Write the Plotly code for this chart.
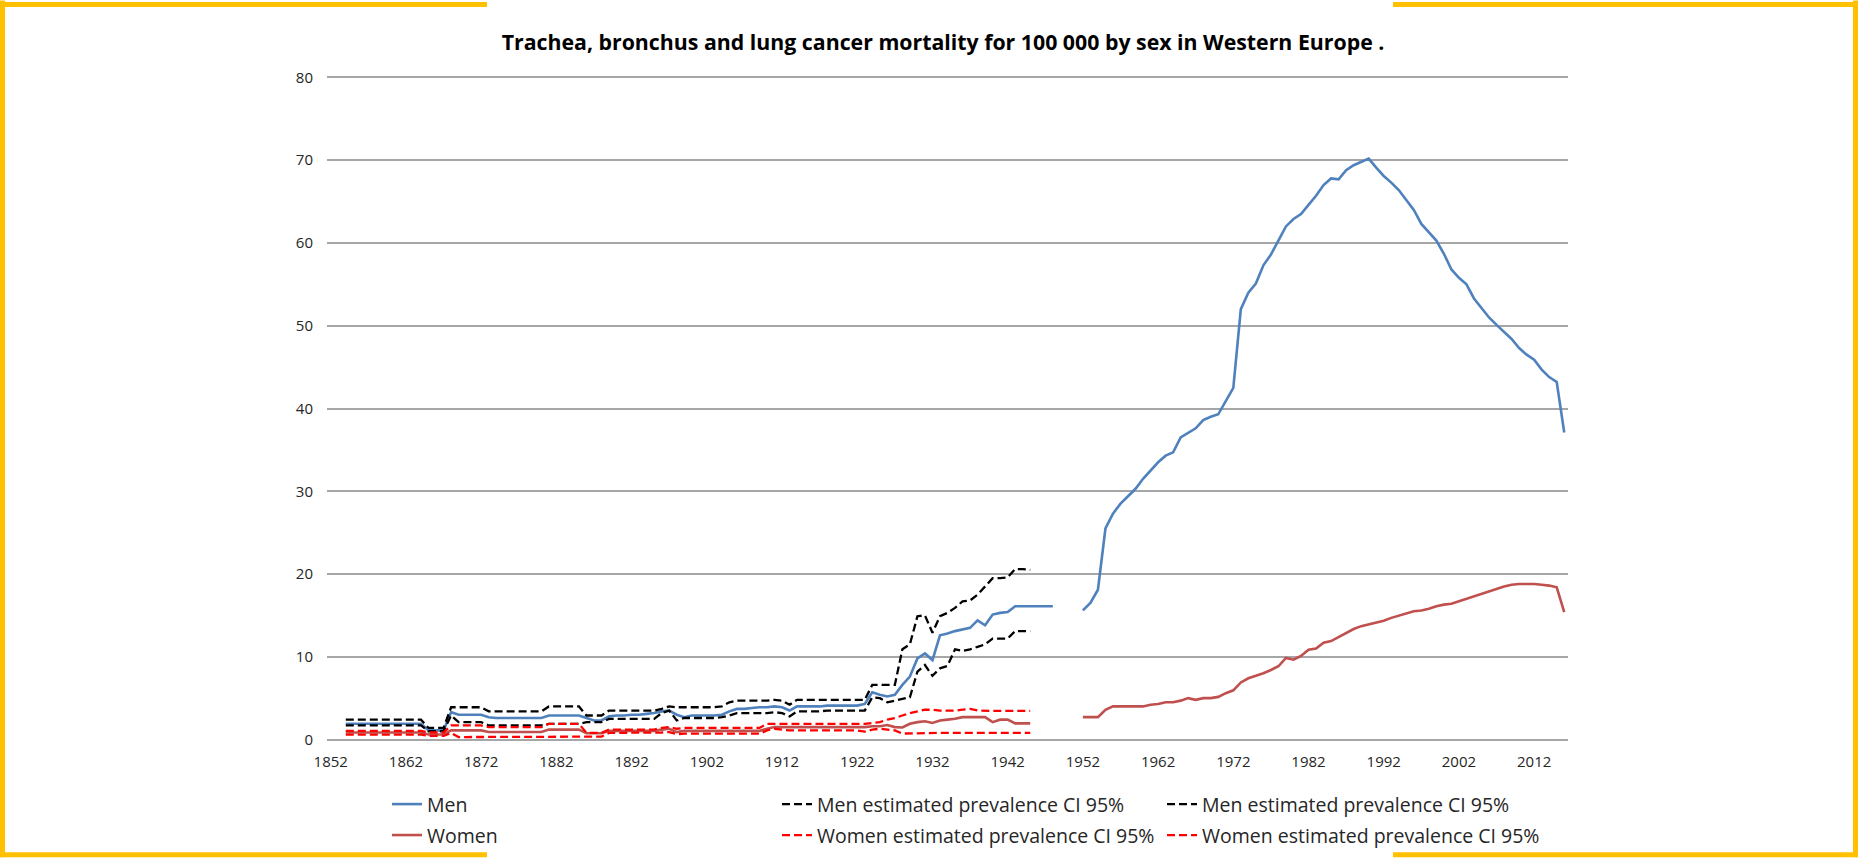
import plotly.graph_objects as go

# ---------------- data ----------------
years_early_men = list(range(1854, 1949))   # 1854..1948
years_early_ci = list(range(1854, 1946))    # 1854..1945
years_late = list(range(1952, 2017))        # 1952..2016

men_early = [1.9, 1.9, 1.9, 1.9, 1.9, 1.9, 1.9, 1.9, 1.9, 1.9, 1.9,
             1.1, 1.1, 1.1,
             3.3, 3.0, 3.0, 3.0, 3.0,
             2.7, 2.6, 2.6, 2.6, 2.6, 2.6, 2.6, 2.6,
             2.9, 2.9, 2.9, 2.9, 2.9,
             2.6, 2.3, 2.3,
             2.8, 2.9, 2.9, 3.0, 3.0, 3.1, 3.2,
             3.4, 3.5, 3.0, 2.7, 2.9, 2.9, 2.9, 2.9, 3.0,
             3.4, 3.7, 3.7, 3.8, 3.9, 3.9, 4.0, 3.9, 3.5,
             4.0, 4.0, 4.0, 4.0, 4.1, 4.1, 4.1, 4.1, 4.1, 4.3,
             5.7, 5.4, 5.2, 5.4, 6.6, 7.6, 9.8, 10.4, 9.6, 12.6,
             12.8, 13.1, 13.3, 13.5, 14.4, 13.8, 15.1, 15.3, 15.4, 16.1,
             16.1, 16.1, 16.1, 16.1, 16.1]

men_hi = [2.4, 2.4, 2.4, 2.4, 2.4, 2.4, 2.4, 2.4, 2.4, 2.4, 2.4,
          1.4, 1.4, 1.4,
          3.9, 3.9, 3.9, 3.9, 3.9,
          3.4, 3.4, 3.4, 3.4, 3.4, 3.4, 3.4, 3.4,
          4.0, 4.0, 4.0, 4.0, 4.0,
          2.9, 2.9, 2.9,
          3.5, 3.5, 3.5, 3.5, 3.5, 3.5, 3.5,
          3.7, 4.0, 3.9, 3.9, 3.9, 3.9, 3.9, 3.9, 4.0,
          4.5, 4.7, 4.7, 4.7, 4.7, 4.7, 4.8, 4.7, 4.2,
          4.8, 4.8, 4.8, 4.8, 4.8, 4.8, 4.8, 4.8, 4.8, 4.8,
          6.6, 6.6, 6.6, 6.6, 10.9, 11.5, 14.9, 15.0, 12.9, 14.9,
          15.3, 15.9, 16.7, 16.8, 17.5, 18.5, 19.5, 19.5, 19.6, 20.6,
          20.6, 20.5]

men_lo = [1.7, 1.7, 1.7, 1.7, 1.7, 1.7, 1.7, 1.7, 1.7, 1.7, 1.7,
          1.0, 1.0, 1.0,
          2.9, 2.1, 2.1, 2.1, 2.1,
          1.7, 1.7, 1.7, 1.7, 1.7, 1.7, 1.7, 1.7,
          1.9, 1.9, 1.9, 1.9, 1.9,
          2.1, 2.1, 2.1,
          2.5, 2.5, 2.5, 2.5, 2.5, 2.5, 2.5,
          3.2, 3.5, 2.3, 2.6, 2.6, 2.6, 2.6, 2.6, 2.7,
          2.9, 3.2, 3.2, 3.2, 3.2, 3.2, 3.3, 3.2, 2.8,
          3.4, 3.4, 3.4, 3.4, 3.5, 3.5, 3.5, 3.5, 3.5, 3.5,
          5.1, 5.0, 4.5, 4.7, 4.9, 5.1, 8.2, 9.0, 7.7, 8.6,
          8.9, 10.9, 10.7, 10.9, 11.2, 11.5, 12.2, 12.2, 12.2, 13.1,
          13.1, 13.1]

women_early = [0.85, 0.85, 0.85, 0.85, 0.85, 0.85, 0.85, 0.85, 0.85, 0.85, 0.85,
               0.6, 0.6, 0.6,
               1.1, 1.1, 1.1, 1.1, 1.1,
               0.9, 0.9, 0.9, 0.9, 0.9, 0.9, 0.9, 0.9,
               1.2, 1.2, 1.2, 1.2, 1.2,
               0.75, 0.75, 0.75,
               1.05, 1.05, 1.05, 1.05, 1.05, 1.05, 1.05,
               1.2, 1.3, 0.9, 1.05, 1.05, 1.05, 1.05, 1.05, 1.05,
               1.05, 1.05, 1.05, 1.05, 1.05, 1.3, 1.5, 1.5, 1.5,
               1.5, 1.5, 1.5, 1.5, 1.5, 1.5, 1.5, 1.5, 1.5, 1.5,
               1.6, 1.6, 1.75, 1.5, 1.45, 1.9, 2.1, 2.2, 2.0, 2.3,
               2.4, 2.5, 2.7, 2.7, 2.7, 2.7, 2.1, 2.4, 2.4, 1.95,
               1.95, 1.95]

women_hi = [1.05, 1.05, 1.05, 1.05, 1.05, 1.05, 1.05, 1.05, 1.05, 1.05, 1.05,
            0.85, 0.85, 0.85,
            1.7, 1.7, 1.7, 1.7, 1.7,
            1.5, 1.5, 1.5, 1.5, 1.5, 1.5, 1.5, 1.5,
            1.9, 1.9, 1.9, 1.9, 1.9,
            0.8, 0.8, 0.8,
            1.2, 1.2, 1.2, 1.2, 1.2, 1.2, 1.2,
            1.4, 1.5, 1.3, 1.4, 1.4, 1.4, 1.4, 1.4, 1.4,
            1.4, 1.4, 1.4, 1.4, 1.4, 1.9, 1.9, 1.9, 1.9,
            1.9, 1.9, 1.9, 1.9, 1.9, 1.9, 1.9, 1.9, 1.9, 1.9,
            2.0, 2.1, 2.4, 2.6, 2.9, 3.2, 3.4, 3.6, 3.6, 3.5,
            3.5, 3.5, 3.6, 3.7, 3.5, 3.45, 3.45, 3.45, 3.45, 3.45,
            3.45, 3.45]

women_lo = [0.6, 0.6, 0.6, 0.6, 0.6, 0.6, 0.6, 0.6, 0.6, 0.6, 0.6,
            0.45, 0.45, 0.45,
            0.8, 0.3, 0.3, 0.3, 0.3,
            0.3, 0.3, 0.3, 0.3, 0.3, 0.3, 0.3, 0.3,
            0.3, 0.3, 0.3, 0.3, 0.3,
            0.35, 0.35, 0.35,
            0.8, 0.8, 0.8, 0.8, 0.8, 0.8, 0.8,
            0.85, 0.9, 0.65, 0.7, 0.7, 0.7, 0.7, 0.7, 0.7,
            0.7, 0.7, 0.7, 0.7, 0.7, 1.1, 1.3, 1.2, 1.1,
            1.1, 1.1, 1.1, 1.1, 1.1, 1.1, 1.1, 1.1, 1.1, 0.95,
            1.2, 1.3, 1.2, 1.1, 0.72, 0.75, 0.8, 0.8, 0.8, 0.8,
            0.8, 0.8, 0.8, 0.8, 0.8, 0.8, 0.8, 0.8, 0.8, 0.8,
            0.8, 0.8]

men_late = [15.6, 16.5, 18.1, 25.5, 27.3, 28.5, 29.4, 30.3, 31.5, 32.5,
            33.5, 34.3, 34.7, 36.5, 37.0, 37.6, 38.6, 39.0, 39.3, 40.9,
            42.5, 52.0, 54.0, 55.1, 57.3, 58.6, 60.3, 62.0, 62.9, 63.5,
            64.6, 65.7, 67.0, 67.8, 67.7, 68.8, 69.4, 69.8, 70.2, 69.1,
            68.1, 67.3, 66.4, 65.2, 64.0, 62.3, 61.3, 60.3, 58.7, 56.8,
            55.8, 55.0, 53.3, 52.1, 51.0, 50.1, 49.2, 48.4, 47.3, 46.5,
            45.9, 44.7, 43.8, 43.2, 37.1]

women_late = [2.7, 2.7, 2.7, 3.6, 4.0, 4.0, 4.0, 4.0, 4.0, 4.2,
              4.3, 4.5, 4.5, 4.7, 5.0, 4.8, 5.0, 5.0, 5.15, 5.6,
              5.95, 6.9, 7.4, 7.7, 8.0, 8.4, 8.85, 9.85, 9.65, 10.1,
              10.85, 11.0, 11.7, 11.9, 12.4, 12.9, 13.35, 13.7, 13.9, 14.15,
              14.35, 14.7, 14.95, 15.2, 15.5, 15.6, 15.8, 16.1, 16.3, 16.4,
              16.7, 17.0, 17.3, 17.6, 17.9, 18.2, 18.5, 18.7, 18.8, 18.8,
              18.8, 18.7, 18.6, 18.4, 15.4]

x_ticks = [1852, 1862, 1872, 1882, 1892, 1902, 1912, 1922, 1932, 1942,
           1952, 1962, 1972, 1982, 1992, 2002, 2012]
y_ticks = [0, 10, 20, 30, 40, 50, 60, 70, 80]

title_text = "Trachea, bronchus and lung cancer mortality for 100 000 by sex in Western Europe ."
name_men = "Men"
name_women = "Women"
name_men_ci = "Men estimated prevalence CI 95%"
name_women_ci = "Women estimated prevalence CI 95%"

# ---------------- figure ----------------
W, H = 1858, 858
L, R = 327, 1568
YMIN, YMAX = -0.3, 80.3
PPU = 8.29                                  # pixels per unit
T = 77 - (YMAX - 80) * PPU
B = 740 + (0 - YMIN) * PPU

def px(x):
    return (x - L) / (R - L)

def py(y):
    return (B - y) / (B - T)

BLUE = "#4F81BD"
DRED = "#C0504D"
DASH = "8px,4px"

men_x = years_early_men + [1950] + years_late
men_y = men_early + [None] + men_late
women_x = years_early_ci + [1950] + years_late
women_y = women_early + [None] + women_late

FONT = "Open Sans"
TXT = "#262626"
YEL = "#FFC000"

traces = [
    (men_x, men_y, name_men, BLUE, 2.6, "solid", "legend", 428, 805),
    (years_early_ci, men_hi, name_men_ci, "#000000", 2.3, DASH, "legend2", 818, 805),
    (years_early_ci, men_lo, name_men_ci, "#000000", 2.3, DASH, "legend3", 1203, 805),
    (women_x, women_y, name_women, DRED, 2.6, "solid", "legend4", 428, 836),
    (years_early_ci, women_hi, name_women_ci, "#FF0000", 2.3, DASH, "legend5", 818, 836),
    (years_early_ci, women_lo, name_women_ci, "#FF0000", 2.3, DASH, "legend6", 1203, 836),
]

fig = go.Figure()
legends = {}
for xs, ys, nm, col, wd, dsh, lg, tx, ty in traces:
    fig.add_trace(go.Scatter(x=xs, y=ys, mode="lines", name=nm,
                             line=dict(color=col, width=wd, dash=dsh), legend=lg))
    legends[lg] = dict(orientation="h", xanchor="left", yanchor="middle",
                       x=px(tx - 41), y=py(ty),
                       font=dict(family=FONT, size=19.5, color=TXT),
                       bgcolor="rgba(0,0,0,0)", borderwidth=0)

shapes = []
# yellow frame with gaps at top and bottom centre
for (x0, y0, x1, y1) in [(0, 4, 487, 4), (1393, 4, W, 4),
                         (0, 855.5, 487, 855.5), (1393, 855.5, W, 855.5),
                         (2.5, 0, 2.5, H), (W - 2.5, 0, W - 2.5, H)]:
    shapes.append(dict(type="line", xref="paper", yref="paper",
                       x0=px(x0), x1=px(x1), y0=py(y0), y1=py(y1),
                       line=dict(color=YEL, width=5), layer="above"))

fig.update_layout(
    width=W, height=H,
    margin=dict(l=L, r=W - R, t=T, b=H - B, autoexpand=False),
    paper_bgcolor="white", plot_bgcolor="white",
    title=dict(text="<b>" + title_text + "</b>", x=943 / W, xanchor="center",
               xref="container", y=1 - 43 / H, yanchor="middle",
               font=dict(family=FONT, size=21.3, color="#000000")),
    xaxis=dict(range=[1851.5, 2016.5], tickmode="array", tickvals=x_ticks,
               ticktext=[str(v) for v in x_ticks], showgrid=False, zeroline=False,
               showline=False, ticks="", ticklabelstandoff=9,
               tickfont=dict(family=FONT, size=15, color=TXT)),
    yaxis=dict(range=[YMIN, YMAX], tickmode="array", tickvals=y_ticks,
               showgrid=True, gridcolor="#A6A6A6", gridwidth=1.5, zeroline=False,
               showline=False, ticks="", ticklabelstandoff=13,
               tickfont=dict(family=FONT, size=15, color=TXT)),
    shapes=shapes,
    showlegend=True,
    **legends,
)

fig.write_html("out.html",
               config={"displayModeBar": False},
               post_script="document.body.style.margin='0';document.body.style.overflow='hidden';")
